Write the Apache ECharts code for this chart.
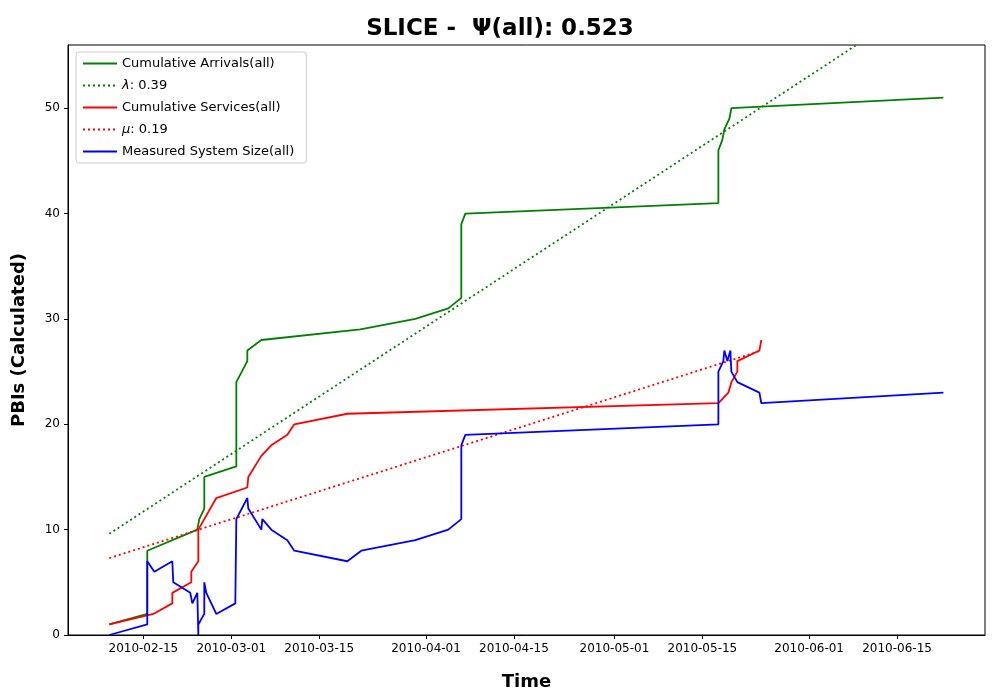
<!DOCTYPE html>
<html><head><meta charset="utf-8">
<script src="https://cdn.jsdelivr.net/npm/echarts@6/dist/echarts.min.js"></script>
<style>html,body{margin:0;padding:0;background:#fff}#c{width:1000px;height:700px}</style>
</head><body><div id="c"></div>
<script>
// x values: days since 2010-03-01 00:00
const baseDate = Date.UTC(2010, 2, 1);
const tickDays = [-14, 0, 14, 31, 45, 61, 75, 92, 106];
const arrivalsDays = [-19.43,-13.38,-13.38,-5.41,-5.10,-4.30,-4.30,0.80,0.80,2.55,2.55,4.78,20.54,29.30,34.55,36.62,36.62,37.26,77.55,77.55,78.18,78.50,79.30,79.62,113.38];
const arrivalsVals = [1,2,8,10,11,12,15,16,24,26,27,28,29,30,31,32,39,40,41,46,47,48,49,50,51];
const servicesDays = [-19.43,-12.42,-9.39,-9.39,-6.37,-6.37,-5.25,-5.25,-2.39,2.55,2.71,4.78,6.37,8.92,10.03,18.47,77.55,79.14,79.62,80.57,80.57,84.08,84.39];
const servicesVals = [1,2,3,4,5,6,7,10,13,14,15,17,18,19,20,21,22,23,24,25,26,27,28];
const sizeDays = [-19.43,-13.38,-13.38,-12.26,-9.39,-9.24,-6.53,-6.21,-5.41,-5.25,-5.25,-4.30,-4.30,-3.98,-2.39,0.64,0.80,2.55,2.71,4.78,4.94,6.37,8.92,10.03,18.47,20.70,29.30,34.55,36.62,36.62,37.26,77.55,77.55,78.34,78.50,78.98,79.46,79.62,80.57,84.08,84.39,113.38];
const sizeVals = [0,1,7,6,7,5,4,3,4,0,1,2,5,4,2,3,11,13,12,10,11,10,9,8,7,8,9,10,11,18,19,20,25,26,27,26,27,25,24,23,22,23];
const lambdaLine = {days: [-19.43, 113.38], vals: [9.6, 61.4]};
const muLine = {days: [-19.43, 84.39], vals: [7.3, 27.0]};

const zip = (a, b) => a.map((d, i) => [d, b[i]]);
const fmt = d => { const t = new Date(baseDate + d * 86400000); return t.getUTCFullYear() + '-' + String(t.getUTCMonth() + 1).padStart(2, '0') + '-' + String(t.getUTCDate()).padStart(2, '0'); };
const font = 'DejaVu Sans';
const chart = echarts.init(document.getElementById('c'));
const ls = (c, t) => ({type: 'line', showSymbol: false, symbol: 'none', lineStyle: {color: c, width: 1.8, type: t}, itemStyle: {color: c}, animation: false});
chart.setOption({
  textStyle: {fontFamily: font},
  title: {text: 'SLICE -  Ψ(all): 0.523', left: 'center', top: 13, textStyle: {fontSize: 23, fontWeight: 'bold', color: '#000', fontFamily: font}},
  grid: {left: 68, right: 15, top: 45, bottom: 65, show: true, borderColor: '#000', borderWidth: 1},
  legend: {orient: 'vertical', left: 76, top: 52, itemWidth: 34, itemHeight: 12, itemGap: 9, backgroundColor: '#fff', borderColor: '#ccc', borderWidth: 1, borderRadius: 3, padding: [5, 12, 5, 6],
    itemStyle: {opacity: 0},
    textStyle: {fontSize: 13, color: '#000', rich: {i: {fontStyle: 'italic', fontSize: 13}}},
    formatter: n => n === 'lam' ? '{i|λ}: 0.39' : n === 'mu' ? '{i|μ}: 0.19' : n,
    data: ['Cumulative Arrivals(all)', 'lam', 'Cumulative Services(all)', 'mu', 'Measured System Size(all)']},
  xAxis: {type: 'value', min: -26, max: 120, name: 'Time', nameLocation: 'middle', nameGap: 38,
    nameTextStyle: {fontSize: 18, fontWeight: 'bold', color: '#000'},
    axisLine: {onZero: false, lineStyle: {color: '#000'}}, splitLine: {show: false},
    axisTick: {customValues: tickDays, length: 4, lineStyle: {color: '#000'}},
    axisLabel: {customValues: tickDays, formatter: fmt, color: '#000', fontSize: 12}},
  yAxis: {type: 'value', min: 0, max: 56, interval: 10, name: 'PBIs (Calculated)', nameLocation: 'middle', nameGap: 40,
    nameTextStyle: {fontSize: 18, fontWeight: 'bold', color: '#000'},
    axisLine: {show: true, onZero: false, lineStyle: {color: '#000'}}, splitLine: {show: false},
    axisTick: {show: true, length: 4, lineStyle: {color: '#000'}},
    axisLabel: {color: '#000', fontSize: 12, showMaxLabel: false}},
  series: [
    Object.assign(ls('#008000', 'solid'), {name: 'Cumulative Arrivals(all)', data: zip(arrivalsDays, arrivalsVals)}),
    Object.assign(ls('#008000', [2, 3]), {name: 'lam', data: zip(lambdaLine.days, lambdaLine.vals)}),
    Object.assign(ls('#ff0000', 'solid'), {name: 'Cumulative Services(all)', data: zip(servicesDays, servicesVals)}),
    Object.assign(ls('#ff0000', [2, 3]), {name: 'mu', data: zip(muLine.days, muLine.vals)}),
    Object.assign(ls('#0000ff', 'solid'), {name: 'Measured System Size(all)', data: zip(sizeDays, sizeVals)})
  ]
});
</script></body></html>
